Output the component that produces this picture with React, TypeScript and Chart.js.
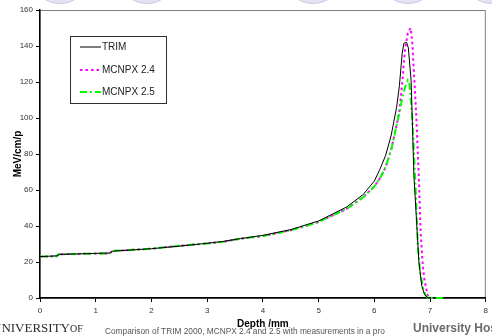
import React, { useEffect, useRef } from 'react';
import { Chart, registerables } from 'chart.js';

Chart.register(...registerables);

// ---- data ----
const seriesNames = ['TRIM', 'MCNPX 2.4', 'MCNPX 2.5'];

const trimDepth = [0, 0.3, 0.35, 1.0, 1.25, 1.3, 2.0, 2.5, 3.0, 3.3, 3.6, 4.0, 4.5, 5.0, 5.5, 5.8, 6.0, 6.1, 6.2, 6.3, 6.4, 6.45, 6.5, 6.53, 6.58, 6.61, 6.66, 6.71, 6.75, 6.8, 6.85, 6.9, 6.96];
const trimValue = [23, 23.4, 24.2, 24.8, 25.0, 26.0, 27.4, 28.8, 30.4, 31.5, 33.0, 34.8, 38.0, 42.8, 50.5, 57.5, 65, 71.5, 79, 90, 106, 118, 136, 141.5, 142, 139, 121, 68, 47, 20, 7, 2, 0];

const mcnpx24Depth = [0, 0.3, 0.33, 1.25, 1.3, 2.0, 2.5, 3.0, 3.3, 3.6, 4.0, 4.5, 5.0, 5.5, 5.8, 6.0, 6.1, 6.2, 6.3, 6.4, 6.45, 6.5, 6.55, 6.6, 6.65, 6.68, 6.7, 6.75, 6.8, 6.83, 6.87, 6.9, 6.96, 7.0];
const mcnpx24Value = [23, 23.2, 24.3, 24.8, 26.1, 27.4, 29.0, 30.3, 31.3, 33.0, 34.4, 37.6, 42.2, 49.5, 56, 62, 66.5, 72.5, 82, 96, 104, 119, 138, 147, 150, 143, 131, 103, 66, 37, 18, 10, 1, 0];

const mcnpx25Depth = [0, 0.3, 0.33, 1.25, 1.3, 2.0, 2.5, 3.0, 3.3, 3.6, 4.0, 4.5, 5.0, 5.5, 5.8, 6.0, 6.1, 6.2, 6.3, 6.4, 6.45, 6.5, 6.55, 6.6, 6.63, 6.68, 6.72, 6.75, 6.78, 6.82, 6.87, 6.92, 6.96, 7.28];
const mcnpx25Value = [23, 23.2, 24.3, 24.8, 26.1, 27.4, 29.0, 30.3, 31.3, 33.0, 34.4, 37.6, 42.2, 49.5, 56, 62, 66.5, 72.5, 82, 96, 103, 111, 117, 121, 119, 101, 75, 54, 29, 15, 6, 1.5, 0, 0];

const depthMin = 0;
const depthMax = 8;
const depthStep = 1;
const valueMin = 0;
const valueMax = 160;
const valueStep = 20;

const xTitle = 'Depth /mm';
const yTitle = 'MeV/cm/p';
const footerCaption = 'Comparison of TRIM 2000, MCNPX 2.4 and 2.5 with measurements in a pro';

const toPoints = (xs: number[], ys: number[]) => xs.map((x, i) => ({ x, y: ys[i] }));

const FONT = 'Arial, "Liberation Sans", sans-serif';

const frameBox = {
  id: 'frameBox',
  beforeDraw(chart: any) {
    const { ctx, chartArea } = chart;
    ctx.save();
    ctx.strokeStyle = '#808080';
    ctx.lineWidth = 1;
    ctx.strokeRect(chartArea.left, chartArea.top + 0.5, chartArea.right - chartArea.left - 0.5, chartArea.bottom - chartArea.top);
    ctx.restore();
  },
};

const insetLegend = {
  id: 'insetLegend',
  afterDatasetsDraw(chart: any) {
    const { ctx } = chart;
    const bx = 70.5, by = 36.5, bw = 96, bh = 67;
    ctx.save();
    ctx.fillStyle = '#ffffff';
    ctx.fillRect(bx, by, bw, bh);
    ctx.strokeStyle = '#303030';
    ctx.lineWidth = 1;
    ctx.strokeRect(bx, by, bw, bh);
    const rows = [47, 70, 92];
    chart.data.datasets.forEach((ds: any, i: number) => {
      const y = rows[i];
      ctx.save();
      ctx.strokeStyle = i === 0 ? '#555555' : ds.borderColor;
      ctx.lineWidth = i === 0 ? 1.5 : ds.borderWidth;
      ctx.setLineDash(ds.borderDash || []);
      ctx.beginPath();
      ctx.moveTo(80, y);
      ctx.lineTo(101, y);
      ctx.stroke();
      ctx.restore();
      ctx.fillStyle = '#222222';
      ctx.font = `10px ${FONT}`;
      ctx.textBaseline = 'middle';
      ctx.textAlign = 'left';
      ctx.fillText(ds.label, 102, y + 0.5);
    });
    ctx.restore();
  },
};

export default function App() {
  const canvasRef = useRef<HTMLCanvasElement | null>(null);

  useEffect(() => {
    const canvas = canvasRef.current;
    if (!canvas) return;
    const tickFont = { family: FONT, size: 8 };
    const chart = new Chart(canvas, {
      type: 'line',
      data: {
        datasets: [
          {
            label: seriesNames[0],
            data: toPoints(trimDepth, trimValue),
            borderColor: '#000000',
            borderWidth: 1,
            pointRadius: 0,
            tension: 0,
            fill: false,
            order: 0,
          },
          {
            label: seriesNames[1],
            data: toPoints(mcnpx24Depth, mcnpx24Value),
            borderColor: '#ff00ff',
            borderWidth: 2,
            borderDash: [2.5, 3],
            pointRadius: 0,
            tension: 0,
            fill: false,
            clip: 3,
            order: 2,
          },
          {
            label: seriesNames[2],
            data: toPoints(mcnpx25Depth, mcnpx25Value),
            borderColor: '#00ff00',
            borderWidth: 2,
            borderDash: [7, 3, 2, 3],
            pointRadius: 0,
            tension: 0,
            fill: false,
            clip: 3,
            order: 1,
          },
        ],
      },
      options: {
        animation: false,
        responsive: false,
        devicePixelRatio: 1,
        layout: { padding: { top: 10, right: 4, bottom: 0, left: 0 } },
        plugins: { legend: { display: false }, tooltip: { enabled: false } },
        scales: {
          x: {
            type: 'linear',
            min: depthMin,
            max: depthMax,
            ticks: { stepSize: depthStep, font: tickFont, color: '#333333', padding: 4, maxRotation: 0 },
            grid: { drawOnChartArea: false, drawTicks: true, tickLength: 4, color: '#000000' },
            border: { color: '#000000', width: 1.5 },
            title: {
              display: true,
              text: xTitle,
              color: '#000000',
              font: { family: FONT, size: 10, weight: 'bold' },
              padding: { top: 0, bottom: 5.6 },
            },
            afterFit(scale: any) {
              scale.height = 38;
            },
          },
          y: {
            type: 'linear',
            min: valueMin,
            max: valueMax,
            ticks: { stepSize: valueStep, font: tickFont, color: '#333333', padding: 3 },
            grid: { drawOnChartArea: false, drawTicks: true, tickLength: 4, color: '#000000' },
            border: { color: '#000000', width: 1.5 },
            title: {
              display: true,
              text: yTitle,
              color: '#000000',
              font: { family: FONT, size: 10, weight: 'bold' },
              padding: { top: 12.6, bottom: 0 },
            },
            afterFit(scale: any) {
              scale.width = 40;
            },
          },
        },
      } as any,
      plugins: [frameBox, insetLegend],
    });
    return () => chart.destroy();
  }, []);

  const circleCenters = [60, 147, 313, 408, 492];

  return (
    <div
      style={{
        position: 'fixed',
        left: 0,
        top: 0,
        width: 492,
        height: 336,
        overflow: 'hidden',
        background: '#ffffff',
      }}
    >
      {circleCenters.map((cx, i) => (
        <div
          key={i}
          style={{
            position: 'absolute',
            left: cx - 30,
            top: -56,
            width: 60,
            height: 60,
            borderRadius: '50%',
            background: '#e3e3f3',
            border: '1px solid #c9c9e6',
            boxSizing: 'border-box',
          }}
        />
      ))}
      <canvas
        ref={canvasRef}
        width={492}
        height={336}
        style={{ position: 'absolute', left: 0, top: 0, width: 492, height: 336, display: 'block' }}
      />
      <div
        style={{
          position: 'absolute',
          left: -8,
          top: 320,
          fontFamily: '"Liberation Serif", "DejaVu Serif", serif',
          fontSize: 13,
          color: '#2a2a2a',
          whiteSpace: 'nowrap',
          lineHeight: '16px',
        }}
      >
        UNIVERSITY<span style={{ fontSize: 10 }}>OF</span>
      </div>
      <div
        style={{
          position: 'absolute',
          left: 105,
          top: 326,
          fontFamily: FONT,
          fontSize: 8.3,
          color: '#555555',
          whiteSpace: 'nowrap',
          lineHeight: '10px',
        }}
      >
        {footerCaption}
      </div>
      <div
        style={{
          position: 'absolute',
          left: 413,
          top: 321,
          fontFamily: FONT,
          fontSize: 12,
          fontWeight: 'bold',
          color: '#6a6a6a',
          whiteSpace: 'nowrap',
          lineHeight: '15px',
        }}
      >
        University Hospital
      </div>
    </div>
  );
}
